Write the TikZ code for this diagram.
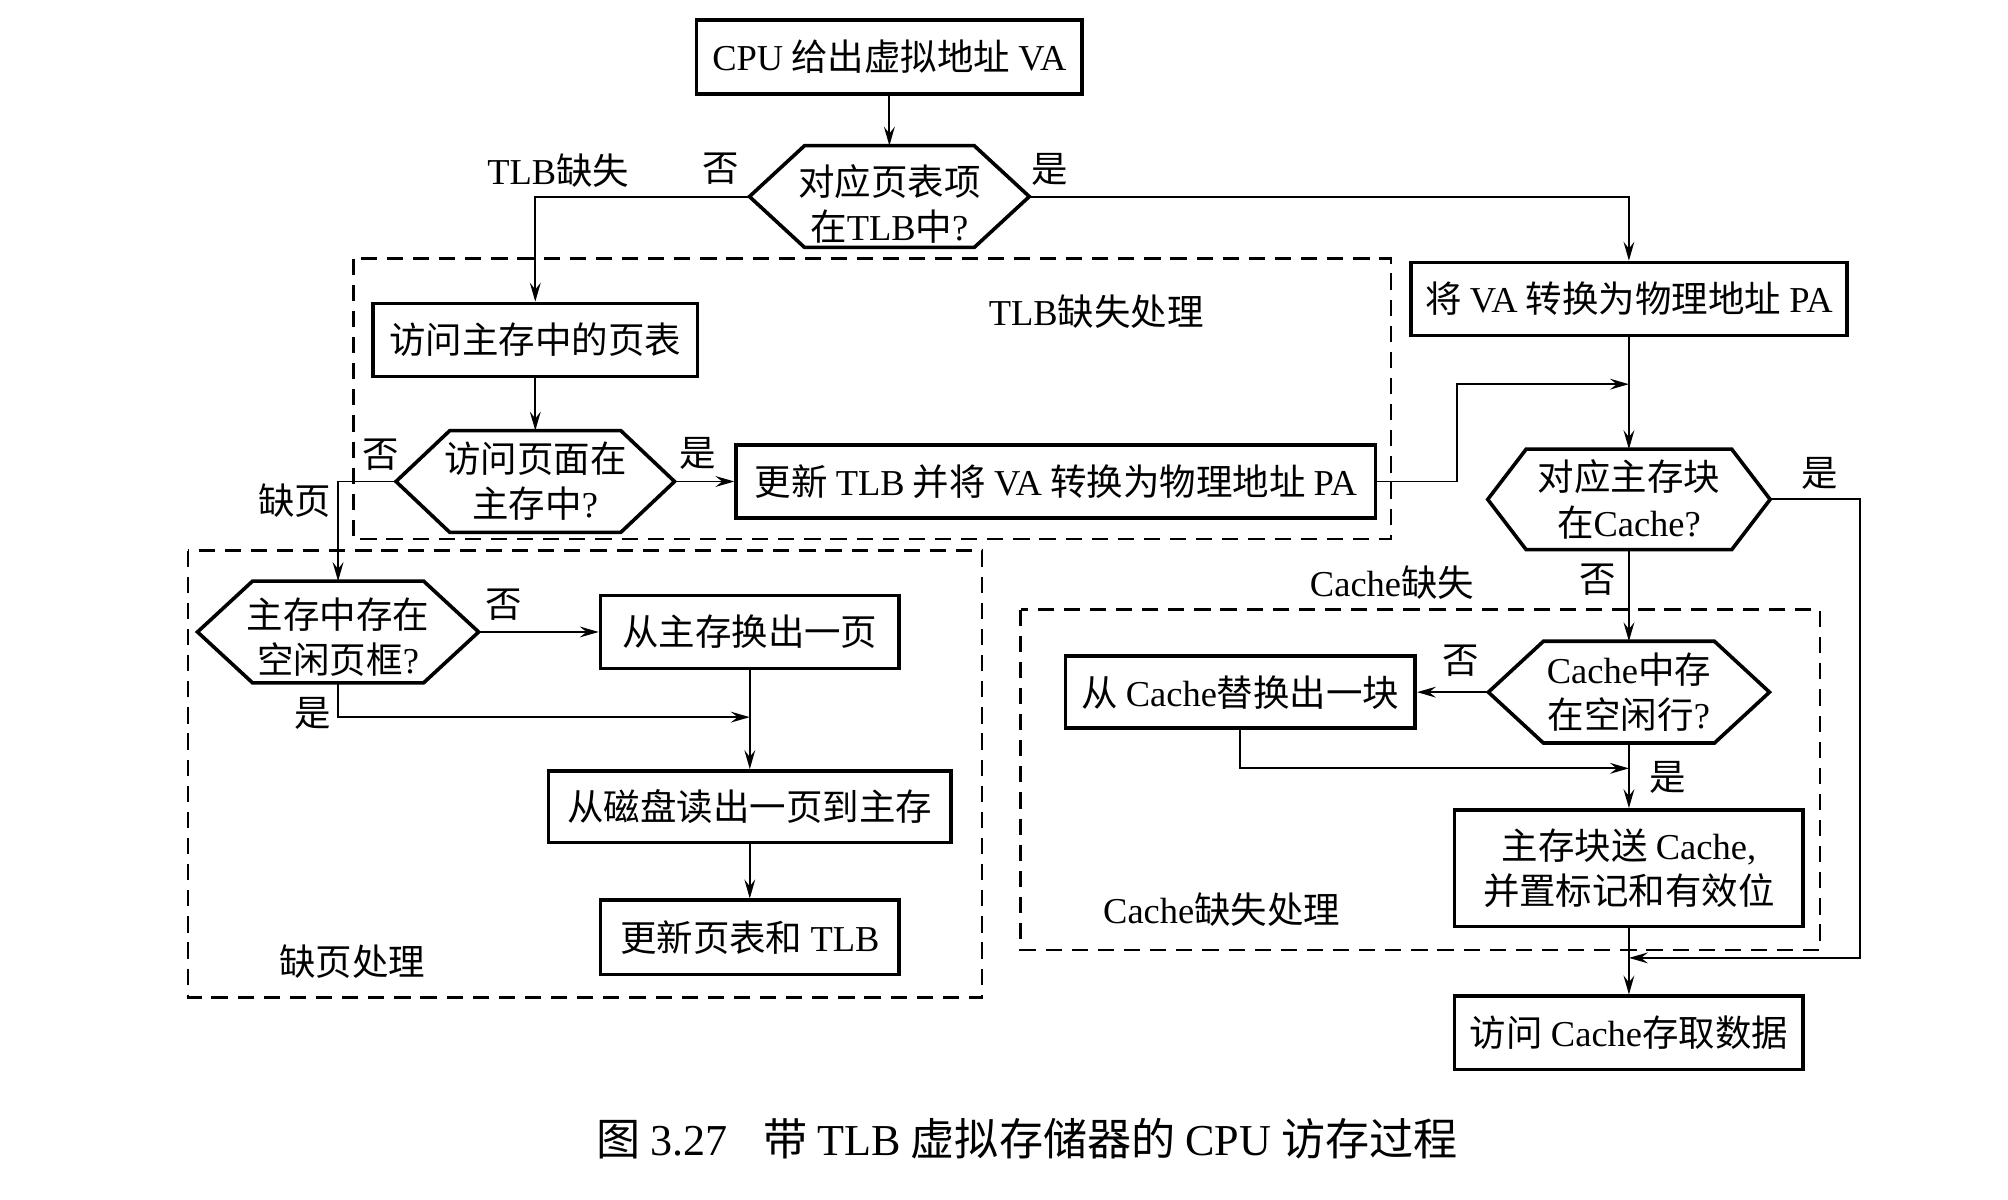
\documentclass[tikz,border=0pt]{standalone}
\usepackage{fontspec}
\setmainfont{Liberation Serif}
\newfontfamily\cjk{Noto Sans CJK SC}
\usetikzlibrary{arrows.meta,calc}
% Latin words inside Chinese text
\newcommand\E[1]{{\rmfamily #1}}
% taller first line, pushes a two-line text block slightly down
\newcommand\lowr[1]{\rule{0pt}{#1}}
% hexagonal outline around a (borderless) node; #2 = horizontal inset of the points
\newcommand\hexline[2]{\draw[boxline] (#1.west) -- ($(#1.north west)+(#2,0)$) -- ($(#1.north east)-(#2,0)$) -- (#1.east) -- ($(#1.south east)-(#2,0)$) -- ($(#1.south west)+(#2,0)$) -- cycle;}
\tikzset{
  txt/.style={font={\cjk\fontsize{8.1pt}{10pt}\selectfont}, align=center, inner sep=0pt},
  boxline/.style={line width=0.8pt},
  box/.style={txt, draw, boxline},
  hexnode/.style={txt},
  arr/.style={line width=0.42pt, -{Stealth[length=4.2pt,width=2.4pt,inset=1.5pt]}},
  dbox/.style={line width=0.55pt, dash pattern=on 3.6pt off 2.2pt},
}
\begin{document}
\begin{tikzpicture}[x=0.01cm, y=-0.01cm]
\useasboundingbox (0,0) rectangle (1568,937);

% ---- dashed regions ----
\draw[dbox] (276,202) rectangle (1086,421);
\draw[dbox] (147,430) rectangle (767,779);
\draw[dbox] (797,476) rectangle (1421,742);

% ---- process boxes ----
\node[box, minimum width=3.01cm, minimum height=0.58cm] (cpu) at (694.5,44.5) {\E{CPU} 给出虚拟地址 \E{VA}};
\node[box, minimum width=3.40cm, minimum height=0.57cm] (va) at (1272,233.5) {将 \E{VA} 转换为物理地址 \E{PA}};
\node[box, minimum width=2.53cm, minimum height=0.57cm] (pt) at (418,265.5) {访问主存中的页表};
\node[box, minimum width=4.99cm, minimum height=0.57cm] (upd) at (824.5,376) {更新 \E{TLB} 并将 \E{VA} 转换为物理地址 \E{PA}};
\node[box, minimum width=2.33cm, minimum height=0.57cm] (swp) at (585.5,493.5) {从主存换出一页};
\node[box, minimum width=3.14cm, minimum height=0.56cm] (rd) at (585.5,630) {从磁盘读出一页到主存};
\node[box, minimum width=2.33cm, minimum height=0.58cm] (upt) at (585.5,732) {更新页表和 \E{TLB}};
\node[box, minimum width=2.73cm, minimum height=0.56cm] (rep) at (968.5,540.5) {从 \E{Cache}替换出一块};
\node[box, minimum width=2.72cm, minimum height=0.91cm] (snd) at (1272,678) {主存块送 \E{Cache,}\\并置标记和有效位};
\node[box, minimum width=2.72cm, minimum height=0.57cm] (acc) at (1272,806.5) {访问 \E{Cache}存取数据};

% ---- decisions ----
\node[hexnode, minimum width=2.17cm, minimum height=0.78cm] (h1) at (694.5,153.5) {\lowr{0.35cm}对应页表项\\在\E{TLB}中\E{?}};
\node[hexnode, minimum width=2.16cm, minimum height=0.78cm] (h2) at (418,376) {访问页面在\\主存中\E{?}};
\node[hexnode, minimum width=2.18cm, minimum height=0.78cm] (h3) at (264,493.5) {\lowr{0.32cm}主存中存在\\空闲页框\E{?}};
\node[hexnode, minimum width=2.19cm, minimum height=0.77cm] (h4) at (1272,390) {对应主存块\\在\E{Cache?}};
\node[hexnode, minimum width=2.18cm, minimum height=0.78cm] (h5) at (1272,540.5) {\E{Cache}中存\\在空闲行\E{?}};
\hexline{h1}{43}
\hexline{h2}{42}
\hexline{h3}{43}
\hexline{h4}{30}
\hexline{h5}{43}

% ---- junction points ----
\coordinate (j1) at (1272,300);
\coordinate (j2) at (1272,748);
\coordinate (j3) at (1272,600);
\coordinate (j4) at (585.5,560);

% ---- connectors ----
\draw[arr] (cpu) -- (h1);
\draw[arr] (h1.west) -| (pt.north);
\draw[arr] (h1.east) -| (va.north);
\draw[arr] (pt) -- (h2);
\draw[arr] (h2.east) -- (upd.west);
\draw[arr] (h2.west) -| (h3.north);
\draw[arr] (upd.east) -- ++(62,0) |- (j1);
\draw[arr] (va) -- (h4);
\draw[arr] (h4.east) -- ++(70,0) |- (j2);
\draw[arr] (h4) -- (h5);
\draw[arr] (h5.west) -- (rep.east);
\draw[arr] (rep.south) |- (j3);
\draw[arr] (h5) -- (snd);
\draw[arr] (snd) -- (acc);
\draw[arr] (h3.east) -- (swp.west);
\draw[arr] (h3.south) |- (j4);
\draw[arr] (swp) -- (rd);
\draw[arr] (rd) -- (upt);

% ---- labels ----
\node[txt] (l1) at (436,133) {\E{TLB}缺失};
\node[txt] (l2) at (563,132) {否};
\node[txt] (l3) at (820,132) {是};
\node[txt] (l4) at (856,243) {\E{TLB}缺失处理};
\node[txt] (l5) at (297,355) {否};
\node[txt] (l6) at (230,391) {缺页};
\node[txt] (l7) at (545,354) {是};
\node[txt] (l8) at (393,472) {否};
\node[txt] (l9) at (244,557) {是};
\node[txt] (l10) at (275,751) {缺页处理};
\node[txt] (l11) at (1421,370) {是};
\node[txt] (l12) at (1248,453) {否};
\node[txt] (l13) at (1087,455) {\E{Cache}缺失};
\node[txt] (l14) at (1141,516) {否};
\node[txt] (l15) at (1302,607) {是};
\node[txt] (l16) at (954,710) {\E{Cache}缺失处理};

% ---- caption ----
\node[txt, font={\cjk\fontsize{9.8pt}{12pt}\selectfont}] (cap) at (802,889) {图 \E{3.27}\hspace{0.28cm}带 \E{TLB} 虚拟存储器的 \E{CPU} 访存过程};
\end{tikzpicture}
\end{document}
